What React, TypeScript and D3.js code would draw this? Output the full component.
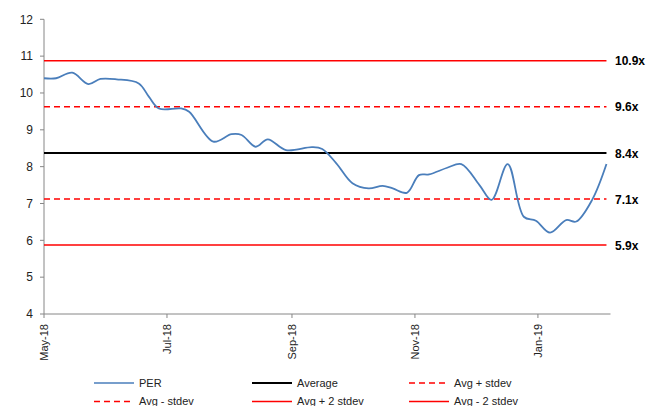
import React from "react";
import * as d3 from "d3";

const perDates = [
  "2018-05-01", "2018-05-07", "2018-05-15", "2018-05-23", "2018-05-29", "2018-06-06",
  "2018-06-17", "2018-06-22", "2018-06-27", "2018-07-08", "2018-07-12", "2018-07-24",
  "2018-08-02", "2018-08-07", "2018-08-14", "2018-08-20", "2018-08-29", "2018-09-11",
  "2018-09-16", "2018-09-23", "2018-10-01", "2018-10-09", "2018-10-16", "2018-10-21",
  "2018-10-28", "2018-11-03", "2018-11-08", "2018-11-17", "2018-11-24", "2018-12-03",
  "2018-12-09", "2018-12-17", "2018-12-25", "2018-12-31", "2019-01-07", "2019-01-15",
  "2019-01-20", "2019-01-28", "2019-02-04",
];
const perValues = [
  10.4, 10.4, 10.55, 10.24, 10.38, 10.37,
  10.26, 9.9, 9.58, 9.58, 9.49, 8.68,
  8.88, 8.86, 8.54, 8.74, 8.45, 8.53,
  8.48, 8.09, 7.55, 7.41, 7.48, 7.41,
  7.29, 7.77, 7.79, 7.97, 8.07, 7.5,
  7.1, 8.07, 6.64, 6.53, 6.21, 6.55,
  6.51, 7.11, 8.07,
];

const bandLabels = ["10.9x", "9.6x", "8.4x", "7.1x", "5.9x"];
const bandValues = [10.876, 9.625, 8.37, 7.12, 5.87];
const bandNames = ["Avg + 2 stdev", "Avg + stdev", "Average", "Avg - stdev", "Avg - 2 stdev"];

const yTicks = [4, 5, 6, 7, 8, 9, 10, 11, 12];
const xTickDates = ["2018-05-01", "2018-07-01", "2018-09-01", "2018-11-01", "2019-01-01"];
const xTickLabels = ["May-18", "Jul-18", "Sep-18", "Nov-18", "Jan-19"];

const legendNames = ["PER", "Average", "Avg + stdev", "Avg - stdev", "Avg + 2 stdev", "Avg - 2 stdev"];

const RED = "#FF0000";
const BLUE = "#4A7EBB";
const AXIS = "#868686";
const FONT = "'Liberation Sans', Arial, sans-serif";

const styleFor = (name: string) => {
  if (name === "PER") return { stroke: BLUE, dash: undefined as string | undefined };
  if (name === "Average") return { stroke: "#000000", dash: undefined };
  if (name === "Avg + stdev" || name === "Avg - stdev") return { stroke: RED, dash: "6,4" };
  return { stroke: RED, dash: undefined };
};

export default function App() {
  const parse = d3.timeParse("%Y-%m-%d");
  const dates = perDates.map((d) => parse(d) as Date);
  const x = d3
    .scaleTime()
    .domain([parse("2018-05-01") as Date, parse("2019-02-06") as Date])
    .range([44, 610.5]);
  const y = d3.scaleLinear().domain([4, 12]).range([314, 19.3]);

  const line = d3
    .line<number>()
    .x((_, i) => x(dates[i]))
    .y((v) => y(v))
    .curve(d3.curveCatmullRom.alpha(0.5));

  const x0 = x(dates[0]);
  const x1 = x(dates[dates.length - 1]);

  const legendPos = [
    [94, 383], [252, 383], [409, 383],
    [94, 401.5], [252, 401.5], [409, 401.5],
  ];

  return (
    <svg
      width={646}
      height={406}
      style={{ position: "absolute", left: 0, top: 0, background: "#fff" }}
      fontFamily={FONT}
    >
      {/* y axis */}
      <line x1={44} x2={44} y1={y(12)} y2={y(4)} stroke={AXIS} strokeWidth={1} />
      {yTicks.map((t) => (
        <g key={t}>
          <line x1={40} x2={44} y1={y(t)} y2={y(t)} stroke={AXIS} />
          <text x={33} y={y(t)} dy="0.35em" textAnchor="end" fontSize={12} fill="#222">
            {t}
          </text>
        </g>
      ))}
      {/* x axis */}
      <line x1={44} x2={610.5} y1={y(4)} y2={y(4)} stroke={AXIS} strokeWidth={1} />
      {xTickDates.map((d, i) => {
        const xx = x(parse(d) as Date);
        return (
          <g key={d}>
            <line x1={xx} x2={xx} y1={y(4)} y2={y(4) + 4} stroke={AXIS} />
            <text
              transform={`translate(${xx + 4},${y(4) + 10}) rotate(-90)`}
              textAnchor="end"
              fontSize={11}
              fill="#222"
            >
              {xTickLabels[i]}
            </text>
          </g>
        );
      })}
      {/* bands */}
      {bandValues.map((v, i) => {
        const st = styleFor(bandNames[i]);
        return (
          <g key={bandNames[i]}>
            <line
              x1={x0}
              x2={x1}
              y1={y(v)}
              y2={y(v)}
              stroke={st.stroke}
              strokeWidth={bandNames[i] === "Average" ? 2 : 1.5}
              strokeDasharray={st.dash}
            />
            <text
              x={615}
              y={y(v)}
              dy="0.38em"
              fontSize={12}
              fontWeight="bold"
              fill="#000"
            >
              {bandLabels[i]}
            </text>
          </g>
        );
      })}
      {/* PER */}
      <path d={line(perValues) || ""} fill="none" stroke={BLUE} strokeWidth={1.8} />
      {/* legend */}
      {legendNames.map((n, i) => {
        const [lx, ly] = legendPos[i];
        const st = styleFor(n);
        return (
          <g key={n}>
            <line
              x1={lx}
              x2={lx + 40}
              y1={ly}
              y2={ly}
              stroke={st.stroke}
              strokeWidth={n === "Average" ? 2 : 1.5}
              strokeDasharray={st.dash}
            />
            <text x={lx + 45} y={ly} dy="0.35em" fontSize={11} fill="#222">
              {n}
            </text>
          </g>
        );
      })}
    </svg>
  );
}
